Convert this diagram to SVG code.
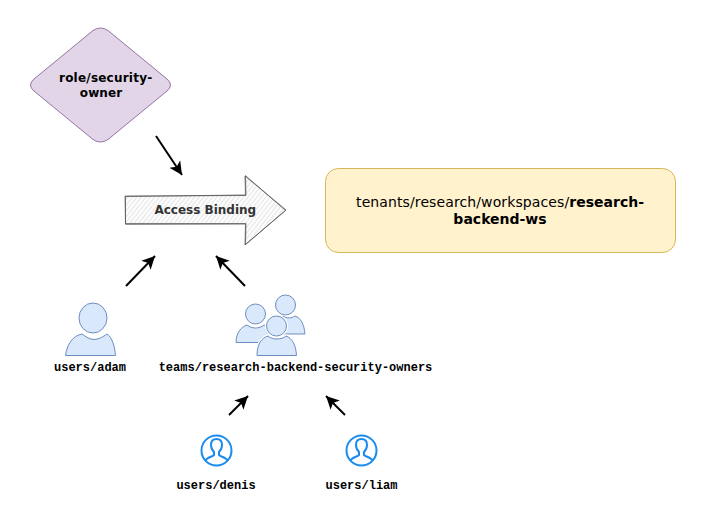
<svg xmlns="http://www.w3.org/2000/svg" width="701" height="521" viewBox="0 0 701 521">
<style>
.mono{font-family:"Liberation Mono","Courier New",monospace;font-weight:700;font-size:12px;fill:#000;text-anchor:middle}
.dv{font-family:"DejaVu Sans",Verdana,sans-serif;text-anchor:middle}
.conn{stroke:#000;stroke-width:2;fill:none;marker-end:url(#ah)}
.person{fill:#dae8fc;stroke:#6c8ebf;stroke-width:1}
.halo{fill:#fff;stroke:#fff;stroke-width:3}
.acct{fill:none;stroke:#1a8cf0;stroke-width:2}
</style>
<defs>
<marker id="ah" markerUnits="userSpaceOnUse" markerWidth="15" markerHeight="15" refX="13" refY="6.500" orient="auto" viewBox="0 0 15 13">
<path d="M0 0L13 6.500L0 13L3.200 6.500Z" fill="#000"/>
</marker>
<pattern id="hatch" width="3.500" height="3.500" patternUnits="userSpaceOnUse" patternTransform="rotate(-52)">
<rect width="3.500" height="3.500" fill="#fff"/>
<line x1="0" y1="1.750" x2="3.500" y2="1.750" stroke="#d2d2d2" stroke-width="0.700"/>
</pattern>
</defs>
<rect width="701" height="521" fill="#fff"/>
<g id="connectors">
<line class="conn" x1="156" y1="136" x2="182" y2="175"/>
<line class="conn" x1="126" y1="286" x2="155" y2="256"/>
<line class="conn" x1="245" y1="286" x2="216" y2="256"/>
<line class="conn" x1="229" y1="415" x2="248" y2="396"/>
<line class="conn" x1="345" y1="415" x2="326" y2="396"/>
</g>
<g id="role">
<path d="M93 30.500Q100.500 25.500 108 30.500L167 79Q174 85 167 91L108 139.500Q100.500 144.500 93 139.500L34 91Q27 85 34 79Z" fill="#e1d5e7" stroke="#9673a6"/>
<text class="dv" x="105.700" y="82" font-size="12" font-weight="700" letter-spacing="0.220">role/security-</text>
<text class="dv" x="101" y="97" font-size="12" font-weight="700" letter-spacing="0.100">owner</text>
</g>
<g id="access-binding">
<path d="M125.500 196.500L245.500 195L245 176L286 210L245 245L245.500 224L125.500 224.300Z" fill="url(#hatch)" stroke="#777" stroke-width="1" stroke-linejoin="round"/>
<path d="M125 196L246 195.500L245.500 175.500L285.500 210.500L245.500 244.500L246 223.500L125.500 223.500Z" fill="none" stroke="#555" stroke-width="0.700" stroke-linejoin="round"/>
<text class="dv" x="205.300" y="214" font-size="12" font-weight="700" fill="#333">Access Binding</text>
</g>
<g id="workspace">
<rect x="325.500" y="168.500" width="350" height="84" rx="13" fill="#fff2cc" stroke="#d6b656"/>
<text class="dv" x="500" y="207" font-size="14" fill="#000"><tspan letter-spacing="0.110">tenants/research/workspaces/</tspan><tspan font-weight="700">research-</tspan></text>
<text class="dv" x="500" y="224" font-size="14" font-weight="700" fill="#000">backend-ws</text>
</g>
<g id="adam">
<path class="person" d="M65.500 355.500C67 345 72 336 82 334C86 337 90 339.500 94 339.500C98 339.500 103 337 107 334C112 337 115 347 115.500 355.500Z"/>
<ellipse class="person" cx="93" cy="318" rx="14" ry="15"/>
<text class="mono" x="90" y="371">users/adam</text>
</g>
<g id="team">
<path class="person" d="M283 316C287 319 292 318 295 316C301 318 304 324 305 334L270 334Z"/>
<circle class="person" cx="285.500" cy="305" r="10"/>
<path class="person" d="M236 342.500C236 333 241 327 247 325C252 329 259 329 264 325C268 326 271 329 272 333L262 342.500Z"/>
<circle class="person" cx="255.500" cy="314" r="10"/>
<path class="halo" d="M257 356C257 345 261 338 268 336C272 340 282 340 286 336C292 338 296 345 296.500 356Z"/>
<circle class="halo" cx="276.500" cy="326" r="10"/>
<path class="person" d="M257 355.500C257 345 261 338 268 336C272 340 282 340 286 336C292 338 296 345 296.500 355.500Z"/>
<circle class="person" cx="276.500" cy="326" r="10"/>
<text class="mono" x="295.500" y="371">teams/research-backend-security-owners</text>
</g>
<g id="denis">
<circle class="acct" cx="216.500" cy="450.500" r="15"/>
<path class="acct" d="M205 461C207 457 212 457 214 455L214 452C212 450 211 447 211 445C211 441 213 439 216.500 439C220 439 222 441 222 445C222 447 221 450 219 452L219 455C221 457 226 457 228 461"/>
<text class="mono" x="216" y="489">users/denis</text>
</g>
<g id="liam">
<circle class="acct" cx="361.500" cy="450.500" r="15"/>
<path class="acct" d="M350 461C352 457 357 457 359 455L359 452C357 450 356 447 356 445C356 441 358 439 361.500 439C365 439 367 441 367 445C367 447 366 450 364 452L364 455C366 457 371 457 373 461"/>
<text class="mono" x="361.500" y="489">users/liam</text>
</g>
</svg>
